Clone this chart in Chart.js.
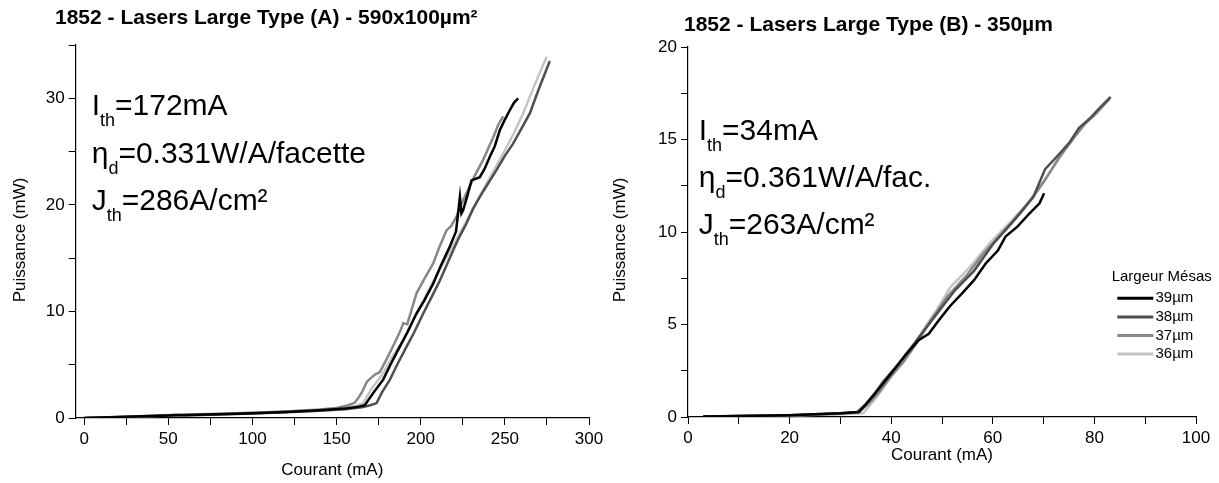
<!DOCTYPE html>
<html><head><meta charset="utf-8">
<script src="https://cdn.jsdelivr.net/npm/chart.js@4/dist/chart.umd.min.js"></script>
<style>
html,body{margin:0;padding:0;background:#fff;}
#wrap{position:relative;width:1219px;height:483px;overflow:hidden;background:#fff;}
#cA{position:absolute;left:0;top:0;width:640px;height:483px;}
#cB{position:absolute;left:600px;top:0;width:619px;height:483px;}
</style></head><body>
<div id="wrap"><canvas id="cA" width="640" height="483"></canvas><canvas id="cB" width="619" height="483"></canvas></div>
<script>
// ---------- DATA ----------
const seriesLabels = ['39µm', '38µm', '37µm', '36µm'];
const seriesColors = ['#000000', '#4f4f4f', '#878787', '#c4c4c4'];

// Chart A : 590x100µm²
const aX39 = [0, 20, 40, 60, 80, 100, 120, 140, 155, 163, 166.8, 172, 177.7, 182, 187.6, 192, 197.5, 202, 207.4, 212, 217.3, 221, 223.3, 224.2, 225.2, 228, 230.2, 235.1, 238, 241, 244, 247, 250, 253, 255.5, 257.9];
const aY39 = [0, 0.1, 0.18, 0.27, 0.36, 0.45, 0.57, 0.72, 0.88, 1.05, 1.2, 2.4, 3.6, 5.0, 6.7, 8.0, 9.8, 11.0, 12.6, 14.3, 16.1, 17.5, 20.75, 19.2, 19.5, 21.0, 22.3, 22.6, 23.4, 24.5, 25.5, 27.0, 28.0, 28.9, 29.6, 30.0];
const aX38 = [0, 20, 40, 55, 60, 80, 100, 120, 140, 155, 165, 170, 173.8, 177, 181.7, 186, 191.6, 196, 201.5, 206, 211.4, 215, 219.3, 223, 227.2, 231, 235.1, 240, 245, 250, 254.9, 260, 264.9, 270, 276.7];
const aY38 = [0, 0.08, 0.16, 0.3, 0.23, 0.32, 0.42, 0.53, 0.68, 0.82, 1.0, 1.2, 1.4, 2.4, 3.6, 5.0, 6.7, 8.0, 9.8, 11.2, 12.9, 14.2, 15.75, 17.0, 18.25, 19.6, 20.75, 22.0, 23.25, 24.6, 25.75, 27.2, 28.6, 30.8, 33.5];
const aX37 = [0, 20, 40, 60, 80, 100, 120, 140, 150, 157, 160.9, 163, 165, 168, 170, 173, 175.7, 180, 185, 188, 189.6, 192, 197.5, 202, 207.4, 211, 215.3, 218, 221.3, 224, 227.2, 232, 237, 243, 246, 249];
const aY37 = [0, 0.1, 0.2, 0.3, 0.4, 0.5, 0.62, 0.8, 0.95, 1.2, 1.45, 1.9, 2.4, 3.4, 3.7, 4.1, 4.3, 5.6, 7.2, 8.2, 8.9, 8.8, 11.7, 13.0, 14.5, 16.0, 17.6, 18.0, 18.9, 20.0, 21.1, 22.7, 24.2, 26.3, 27.5, 28.3];
const aX36 = [0, 20, 40, 60, 80, 100, 120, 140, 155, 162, 165.8, 171, 177.7, 183, 189.6, 195, 201.5, 207, 213.4, 219, 225.2, 231, 237.1, 243, 249, 255, 260.9, 267, 274.8];
const aY36 = [0, 0.1, 0.19, 0.28, 0.38, 0.48, 0.6, 0.76, 0.93, 1.15, 1.4, 2.8, 4.2, 5.7, 7.3, 9.1, 11.0, 12.7, 14.5, 16.1, 17.9, 19.6, 21.4, 23.1, 24.8, 26.6, 28.6, 31.0, 33.9];

// Chart B : 350µm
const bX39 = [3, 10, 20, 30, 33.7, 36.8, 40, 43, 45.4, 47.4, 49.3, 51.6, 54, 56.3, 58.6, 61, 62.5, 64.9, 67.2, 69.2, 70.1];
const bY39 = [0.03, 0.05, 0.1, 0.2, 0.27, 1.26, 2.35, 3.4, 4.15, 4.5, 5.2, 6.0, 6.7, 7.4, 8.3, 9.0, 9.75, 10.3, 11.0, 11.55, 12.1];
const bX38 = [3, 10, 20, 30, 33.3, 35, 36.8, 38.4, 41.5, 44.6, 48.5, 52.4, 56.3, 60.2, 64.1, 68, 70.3, 72.7, 75, 76.9, 79.3, 81, 83.2];
const bY38 = [0.03, 0.05, 0.1, 0.2, 0.27, 0.7, 1.3, 1.9, 2.9, 4.0, 5.4, 6.8, 7.9, 9.4, 10.6, 11.9, 13.4, 14.1, 14.8, 15.6, 16.2, 16.7, 17.3];
const bX37 = [3, 10, 20, 30, 33.5, 35.5, 37.5, 40, 42.5, 45, 48, 51, 55, 58, 62, 66, 70, 73, 76, 78, 80, 83];
const bY37 = [0.02, 0.05, 0.1, 0.18, 0.25, 0.7, 1.3, 2.2, 3.0, 4.0, 5.3, 6.5, 7.7, 8.8, 10.0, 11.2, 12.7, 14.0, 15.1, 15.8, 16.3, 17.2];
const bX36 = [3, 10, 20, 30, 34.5, 36.6, 38, 40, 43.8, 47, 49, 51.6, 55.5, 59.4, 63.3, 68, 71.9, 75];
const bY36 = [0.0, 0.04, 0.08, 0.15, 0.2, 0.9, 1.4, 2.2, 3.6, 5.0, 5.8, 7.0, 8.1, 9.4, 10.5, 11.9, 13.5, 14.8];

const titleA = '1852 - Lasers Large Type (A) - 590x100µm²';
const titleB = '1852 - Lasers Large Type (B) - 350µm';
const annotA = [['I', 'th', '=172mA'], ['η', 'd', '=0.331W/A/facette'], ['J', 'th', '=286A/cm²']];
const annotB = [['I', 'th', '=34mA'], ['η', 'd', '=0.361W/A/fac.'], ['J', 'th', '=263A/cm²']];
const xTitle = 'Courant (mA)';
const yTitle = 'Puissance (mW)';
const legendTitle = 'Largeur Mésas';

// ---------- HELPERS ----------
const FONT = "'Liberation Sans', Arial, sans-serif";
function pts(xs, ys) { return xs.map((x, i) => ({x: x, y: ys[i]})); }
function makeDatasets(sets) {
  return sets.map((s, i) => ({
    label: seriesLabels[i], data: pts(s[0], s[1]),
    borderColor: seriesColors[i], backgroundColor: seriesColors[i],
    borderWidth: 2.5, pointRadius: 0, tension: 0, fill: false
  }));
}
function axis(min, max, step, major, fit, isX) {
  return {
    type: 'linear', min: min, max: max,
    afterFit: (s) => {
      if (isX) s.height = fit; else s.width = fit;
      s.paddingLeft = 0; s.paddingRight = 0; s.paddingTop = 0; s.paddingBottom = 0;
    },
    ticks: {
      stepSize: step, includeBounds: false, autoSkip: false, maxRotation: 0,
      callback: (v) => (Math.abs(v / major - Math.round(v / major)) < 1e-9 ? String(v) : ''),
      color: '#000', font: {family: FONT, size: 17}, padding: 4
    },
    grid: {drawOnChartArea: false, drawTicks: true, tickLength: 7, color: '#000', lineWidth: 1},
    border: {display: true, color: '#000', width: 1.2}
  };
}
function drawAnnot(ctx, x, y0, dy, lines) {
  ctx.fillStyle = '#000';
  ctx.textAlign = 'left';
  ctx.textBaseline = 'alphabetic';
  lines.forEach((l, i) => {
    const y = y0 + i * dy;
    let cx = x;
    ctx.font = '30px ' + FONT;
    ctx.fillText(l[0], cx, y); cx += ctx.measureText(l[0]).width;
    ctx.font = '18px ' + FONT;
    ctx.fillText(l[1], cx, y + 11); cx += ctx.measureText(l[1]).width;
    ctx.font = '30px ' + FONT;
    ctx.fillText(l[2], cx, y);
  });
}
function textPlugin(cfg) {
  return {
    id: 'texts' + cfg.id,
    afterDraw(chart) {
      const ctx = chart.ctx;
      const ca = chart.chartArea;
      ctx.save();
      ctx.fillStyle = '#000';
      // title
      ctx.font = 'bold 21px ' + FONT;
      ctx.textAlign = 'left'; ctx.textBaseline = 'middle';
      ctx.fillText(cfg.title, cfg.titleX, cfg.titleY);
      // axis titles
      ctx.font = '17px ' + FONT;
      ctx.textAlign = 'center'; ctx.textBaseline = 'middle';
      ctx.fillText(xTitle, (ca.left + ca.right) / 2, cfg.xTitleY);
      ctx.save();
      ctx.translate(cfg.yTitleX, cfg.yTitleY);
      ctx.rotate(-Math.PI / 2);
      ctx.fillText(yTitle, 0, 0);
      ctx.restore();
      // annotation
      drawAnnot(ctx, cfg.annX, cfg.annY, cfg.annDy, cfg.annot);
      // legend
      if (cfg.legend) {
        const L = cfg.legend;
        ctx.font = '15px ' + FONT;
        ctx.textAlign = 'center'; ctx.textBaseline = 'middle';
        ctx.fillText(legendTitle, L.titleX, L.titleY);
        ctx.textAlign = 'left';
        chart.data.datasets.forEach((ds, i) => {
          const y = L.rowY + i * L.rowDy;
          ctx.strokeStyle = ds.borderColor; ctx.lineWidth = 3;
          ctx.beginPath(); ctx.moveTo(L.lineX0, y); ctx.lineTo(L.lineX1, y); ctx.stroke();
          ctx.fillStyle = '#000';
          ctx.fillText(ds.label, L.textX, y);
        });
      }
      ctx.restore();
    }
  };
}
function makeChart(id, sets, ax, ay, pad, cfg) {
  return new Chart(document.getElementById(id), {
    type: 'line',
    data: {datasets: makeDatasets(sets)},
    options: {
      responsive: false, animation: false, devicePixelRatio: 1,
      layout: {padding: pad},
      plugins: {legend: {display: false}, title: {display: false}, tooltip: {enabled: false}},
      scales: {x: ax, y: ay}
    },
    plugins: [textPlugin(cfg)]
  });
}

// Chart A
makeChart('cA',
  [[aX39, aY39], [aX38, aY38], [aX37, aY37], [aX36, aY36]],
  axis(-5, 300, 25, 50, 65, true),
  axis(0, 35, 5, 10, 75.7, false),
  {top: 45, right: 51, left: 0, bottom: 0},
  {id: 'A', title: titleA, titleX: 55, titleY: 18, xTitleY: 470, yTitleX: 20, yTitleY: 240,
   annot: annotA, annX: 91.7, annY: 115, annDy: 47.5});

// Chart B
makeChart('cB',
  [[bX39, bY39], [bX38, bY38], [bX37, bY37], [bX36, bY36]],
  axis(0, 100, 10, 20, 66, true),
  axis(0, 20, 2.5, 5, 88, false),
  {top: 47, right: 23, left: 0, bottom: 0},
  {id: 'B', title: titleB, titleX: 84, titleY: 25, xTitleY: 455, yTitleX: 20, yTitleY: 240,
   annot: annotB, annX: 98.7, annY: 140, annDy: 47,
   legend: {titleX: 561.7, titleY: 276.7, rowY: 298.3, rowDy: 18.6, lineX0: 517.3, lineX1: 553.3, textX: 555.5}});
</script>
</body></html>
